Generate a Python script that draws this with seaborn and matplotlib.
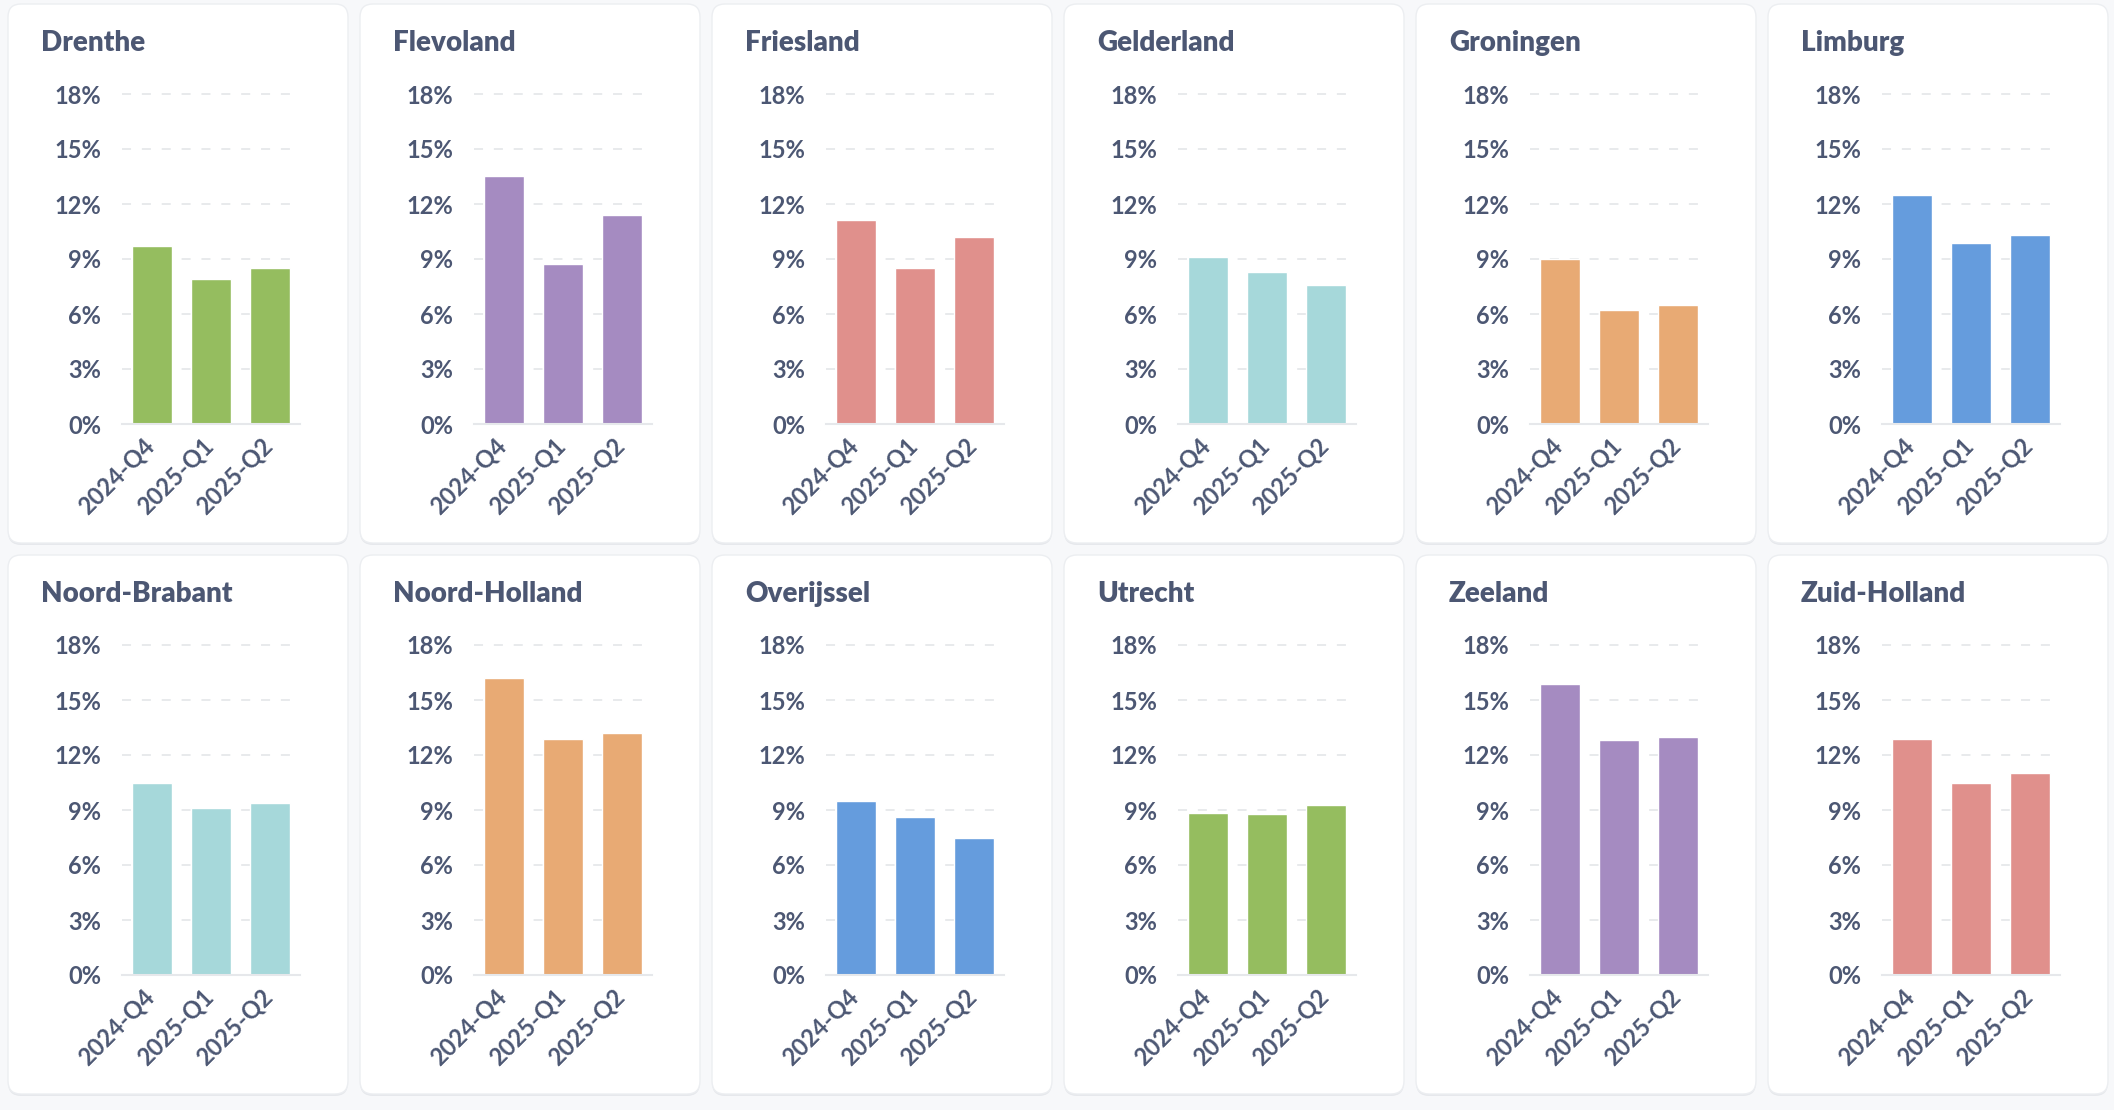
import matplotlib
matplotlib.use("Agg")
import matplotlib.pyplot as plt
from matplotlib.patches import FancyBboxPatch
from matplotlib.transforms import IdentityTransform, ScaledTranslation
from matplotlib.ticker import FuncFormatter
import pandas as pd
import seaborn as sns

sns.set_theme(style="white")
plt.rcParams['font.family'] = ['Lato', 'DejaVu Sans']
plt.rcParams['font.weight'] = 'bold'

# data (percent)
provinces = ['Drenthe', 'Flevoland', 'Friesland', 'Gelderland', 'Groningen', 'Limburg',
             'Noord-Brabant', 'Noord-Holland', 'Overijssel', 'Utrecht', 'Zeeland', 'Zuid-Holland']
quarters = ['2024-Q4', '2025-Q1', '2025-Q2']
q4_2024 = [9.7, 13.5, 11.1, 9.1, 9.0, 12.5, 10.5, 16.2, 9.5, 8.85, 15.9, 12.9]
q1_2025 = [7.9, 8.75, 8.5, 8.3, 6.2, 9.85, 9.1, 12.9, 8.6, 8.8, 12.8, 10.5]
q2_2025 = [8.5, 11.4, 10.2, 7.6, 6.5, 10.3, 9.4, 13.2, 7.45, 9.25, 13.0, 11.0]
bar_colors = ['#95BD5F', '#A58BC1', '#E0908C', '#A6D8DA', '#E8AA74', '#659CDD',
              '#A6D8DA', '#E8AA74', '#659CDD', '#95BD5F', '#A58BC1', '#E0908C']
yticks = [0, 3, 6, 9, 12, 15, 18]

text_col = '#4C5773'
grid_col = '#E6E8EB'

W, H = 2114, 1110
fig = plt.figure(figsize=(W / 100, H / 100), dpi=100)
fig.patch.set_facecolor('#F7F8FA')

card_w, card_h = 340, 539
ymax = 18.4
plot_h = 330  # pixels from 0% to 18%
# nudge for the rotated quarter labels (points)
lab_shift = ScaledTranslation(-7 / 72, 2 / 72, fig.dpi_scale_trans)

for i, prov in enumerate(provinces):
    r, c = divmod(i, 6)
    L = 8 + c * 352
    T = 4 + r * 551

    # card with soft shadow (pixel coords, origin bottom-left), kept behind the axes
    shadow = FancyBboxPatch((L, H - T - card_h - 2), card_w, card_h,
                            boxstyle="round,pad=0,rounding_size=13",
                            transform=IdentityTransform(), facecolor='#E6E8EC',
                            edgecolor='none', zorder=-3)
    card = FancyBboxPatch((L, H - T - card_h), card_w, card_h,
                          boxstyle="round,pad=0,rounding_size=13",
                          transform=IdentityTransform(), facecolor='white',
                          edgecolor='#ECEEF1', linewidth=1, zorder=-2)
    fig.add_artist(shadow)
    fig.add_artist(card)

    fig.text((L + 33) / W, 1 - (T + 39) / H, prov, fontsize=20, fontweight='heavy',
             color=text_col, ha='left', va='center')

    ax_top = T + 90 - plot_h * (ymax - 18) / 18
    ax_bot = T + 420
    ax = fig.add_axes([(L + 114) / W, 1 - ax_bot / H, 178 / W, (ax_bot - ax_top) / H])
    ax.set_facecolor('none')

    df = pd.DataFrame({'quarter': quarters,
                       'value': [q4_2024[i], q1_2025[i], q2_2025[i]]})
    sns.barplot(data=df, x='quarter', y='value', color=bar_colors[i], saturation=1,
                width=0.69, ax=ax)

    ax.set_ylim(0, ymax)
    ax.set_xlim(-0.51, 2.51)
    ax.set_yticks(yticks)
    ax.yaxis.set_major_formatter(FuncFormatter(lambda v, p: f'{v:.0f}%'))
    ax.yaxis.grid(True, linestyle=(0, (5, 6)), color=grid_col, linewidth=1.3)
    ax.set_axisbelow(True)
    ax.set_xlabel('')
    ax.set_ylabel('')
    for s in ['top', 'right', 'left']:
        ax.spines[s].set_visible(False)
    ax.spines['bottom'].set_color(grid_col)
    ax.spines['bottom'].set_linewidth(1.5)
    ax.tick_params(axis='y', length=0, pad=15, labelsize=17, labelcolor=text_col)
    ax.tick_params(axis='x', length=0, pad=9, labelsize=17, labelcolor=text_col)
    for lab in ax.get_xticklabels():
        lab.set_rotation(45)
        lab.set_ha('right')
        lab.set_rotation_mode('anchor')
        lab.set_transform(lab.get_transform() + lab_shift)

fig.savefig('out.png', dpi=100, facecolor=fig.get_facecolor())
